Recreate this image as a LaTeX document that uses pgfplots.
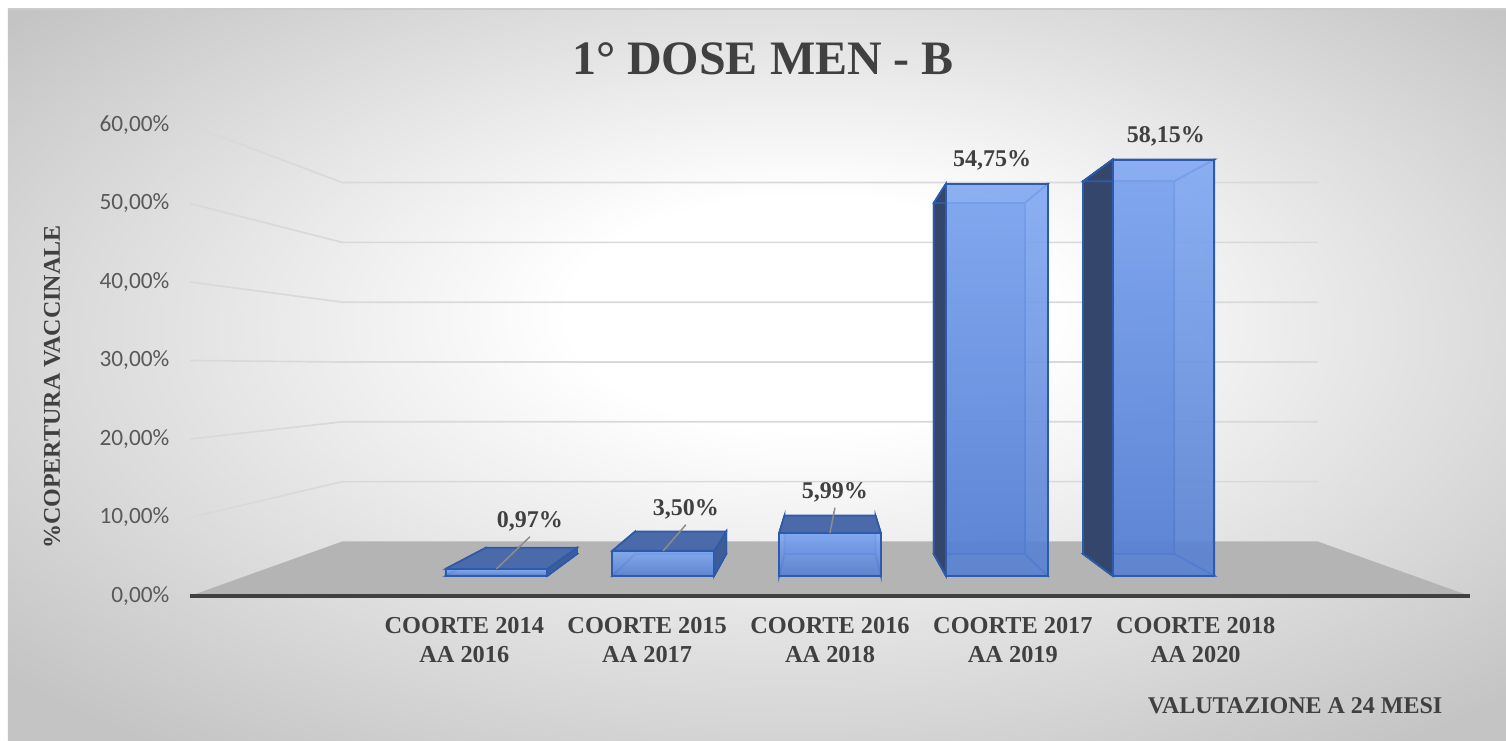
\documentclass[border=0pt]{standalone}
\usepackage{fontspec}
\setmainfont{Liberation Serif}[BoldFont={Liberation Serif Bold}]
\newfontfamily\tnrb{Liberation Serif Bold}
\newfontfamily\calibri{Carlito}
\usepackage{pgfplots}
\usepackage{pgfplotstable}
\pgfplotsset{compat=1.18}

\definecolor{txt}{HTML}{404040}
\definecolor{tickc}{HTML}{595959}
\definecolor{gridc}{HTML}{D9D9D9}
\definecolor{floorc}{HTML}{B4B4B4}
\definecolor{flooredge}{HTML}{404040}
\definecolor{edgec}{RGB}{46,90,172}
\definecolor{fronttop}{RGB}{128,168,242}
\definecolor{frontbot}{RGB}{86,128,210}
\definecolor{backc}{RGB}{90,130,210}
\definecolor{topc}{RGB}{74,106,170}
\definecolor{sideL}{RGB}{52,70,108}
\definecolor{sideR}{RGB}{62,92,150}
\definecolor{bgout}{RGB}{196,196,196}
\definecolor{leadc}{RGB}{140,140,140}

\pgfdeclareradialshading{bgshade}{\pgfpoint{2bp}{5bp}}{color(0bp)=(white); color(8bp)=(white); color(34bp)=(bgout); color(50bp)=(bgout)}

% bars: category position, value, label position
\pgfplotstableread{
x v lx ly
1.5 0.97 1.859 9.55
2.5 3.50 2.712 11.08
3.5 5.99 3.527 13.25
4.5 54.75 4.386 55.54
5.5 58.15 5.337 58.60
}\bars

% face templates: s = side, h = bottom(0)/top(1), f = depth factor
\pgfplotstableread{
s h f
-1 0 0.912
1 0 0.912
1 1 0.912
-1 1 0.912
}\faceFront
\pgfplotstableread{
s h f
-1 0 0.8166
1 0 0.8166
1 1 0.8166
-1 1 0.8166
}\faceBack
\pgfplotstableread{
s h f
-1 0 0.8166
-1 0 0.912
-1 1 0.912
-1 1 0.8166
}\faceLeft
\pgfplotstableread{
s h f
1 0 0.8166
1 0 0.912
1 1 0.912
1 1 0.8166
}\faceRight
\pgfplotstableread{
s h f
-1 1 0.912
1 1 0.912
1 1 0.8166
-1 1 0.8166
}\faceTop
\pgfplotstableread{
s h f
-1 0 0.912
1 0 0.912
1 0 0.8166
-1 0 0.8166
}\faceBottom
\pgfplotstableread{
x v f
0 0 1
7 0 1
7 0 0.762
0 0 0.762
}\floorT
\pgfplotstableread{
x f
0 1
0 0.762
7 0.762
}\gridT

\def\barX{3.5+\thisrow{f}*(\myBx+0.305*\thisrow{s}-3.5)}
\def\barY{29.2+\thisrow{f}*(\thisrow{h}*\myBv-29.2)}

\begin{document}
\begin{tikzpicture}
\useasboundingbox (-57pt,-43.2pt) rectangle (394.8pt,178.8pt);
\fill[white] (-57pt,-43.2pt) rectangle (394.8pt,178.8pt);
\shade[shading=bgshade] (-54.6pt,-43.2pt) rectangle (394.8pt,176.1pt);
\draw[gray!40, line width=0.5pt] (-54.6pt,176.1pt) -- (394.8pt,176.1pt);
\begin{axis}[
  at={(0pt,0pt)}, anchor=south west,
  scale only axis, width=384pt, height=141.3pt,
  xmin=0, xmax=7, ymin=0, ymax=60,
  clip=false, no markers,
  axis line style={draw=none},
  major tick length=0pt,
  xtick={1.5,2.5,3.5,4.5,5.5},
  xticklabels={{COORTE 2014\\AA 2016},{COORTE 2015\\AA 2017},{COORTE 2016\\AA 2018},{COORTE 2017\\AA 2019},{COORTE 2018\\AA 2020}},
  xticklabel style={align=center, font=\tnrb\fontsize{7.3}{8.5}\selectfont, text=txt, inner sep=0pt, anchor=north, yshift=-6.3pt},
  ytick={0,10,20,30,40,50,60},
  yticklabels={{0,00\%},{10,00\%},{20,00\%},{30,00\%},{40,00\%},{50,00\%},{60,00\%}},
  yticklabel style={font=\calibri\fontsize{7}{8}\selectfont, text=tickc, inner sep=0pt, anchor=east, xshift=-6pt},
  title={1° DOSE MEN - B},
  title style={at={(axis description cs:0.4477,1.1062)}, anchor=base, yshift=-6pt, font=\tnrb\fontsize{14.4}{16}\selectfont, text=txt, inner sep=0pt},
  xlabel={VALUTAZIONE A 24 MESI},
  xlabel style={at={(axis description cs:0.9789,-0.2505)}, anchor=base east, font=\tnrb\fontsize{7.2}{8}\selectfont, text=txt, inner sep=0pt},
  ylabel={\%COPERTURA VACCINALE},
  ylabel style={at={(axis description cs:-0.1078,0.4437)}, anchor=center, font=\tnrb\fontsize{7.2}{8}\selectfont, text=txt, inner sep=0pt},
]
% walls gridlines
\pgfplotsinvokeforeach{10,20,30,40,50,60}{
  \addplot[gridc, line width=0.5pt] table[x expr={3.5+\thisrow{f}*(\thisrow{x}-3.5)}, y expr={29.2+\thisrow{f}*(#1-29.2)}] {\gridT};
}
% floor
\addplot[fill=floorc, draw=none] table[x expr={3.5+\thisrow{f}*(\thisrow{x}-3.5)}, y expr={29.2+\thisrow{f}*(\thisrow{v}-29.2)}] {\floorT} -- cycle;
\addplot[flooredge, line width=1.1pt] coordinates {(0,0) (7,0)};
% bars
\pgfplotsinvokeforeach{0,...,4}{
  \pgfplotstablegetelem{#1}{x}\of\bars \edef\myBx{\pgfplotsretval}
  \pgfplotstablegetelem{#1}{v}\of\bars \edef\myBv{\pgfplotsretval}
  \pgfplotstablegetelem{#1}{lx}\of\bars \edef\myLx{\pgfplotsretval}
  \pgfplotstablegetelem{#1}{ly}\of\bars \edef\myLy{\pgfplotsretval}
  \addplot[draw=edgec, fill=backc, fill opacity=0.6, line width=0.5pt] table[x expr=\barX, y expr=\barY] {\faceBack} -- cycle;
  \addplot[draw=edgec, line width=0.5pt] table[x expr=\barX, y expr=\barY] {\faceBottom} -- cycle;
  \addplot[draw=edgec, line width=0.5pt] table[x expr=\barX, y expr=\barY] {\faceLeft} -- cycle;
  \addplot[draw=edgec, line width=0.5pt] table[x expr=\barX, y expr=\barY] {\faceRight} -- cycle;
  \ifdim\myBx pt>3.5pt
    \addplot[draw=edgec, fill=sideL, line width=0.5pt] table[x expr=\barX, y expr=\barY] {\faceLeft} -- cycle;
  \fi
  \ifdim\myBx pt<3.5pt
    \addplot[draw=edgec, fill=sideR, line width=0.5pt] table[x expr=\barX, y expr=\barY] {\faceRight} -- cycle;
  \fi
  \ifdim\myBv pt<29.2pt
    \addplot[draw=edgec, fill=topc, line width=0.5pt] table[x expr=\barX, y expr=\barY] {\faceTop} -- cycle;
  \else
    \addplot[draw=edgec, line width=0.5pt] table[x expr=\barX, y expr=\barY] {\faceTop} -- cycle;
  \fi
  \addplot[draw=edgec, top color=fronttop, bottom color=frontbot, fill opacity=0.9, line width=0.6pt] table[x expr=\barX, y expr=\barY] {\faceFront} -- cycle;
  \pgfmathsetmacro\myX{3.5+0.912*(\myBx-3.5)}
  \pgfmathsetmacro\myY{29.2+0.912*(\myBv-29.2)}
  \pgfmathsetmacro\myLe{\myLy-2}
  \ifdim\myBv pt<29.2pt
    \edef\temp{\noexpand\draw[leadc, line width=0.45pt] (axis cs:\myX,\myY) -- (axis cs:\myLx,\myLe);}\temp
  \fi
  \edef\temp{\noexpand\node[font=\noexpand\tnrb\noexpand\fontsize{7.2}{8}\noexpand\selectfont, text=txt, inner sep=0pt] at (axis cs:\myLx,\myLy) {\noexpand\pgfmathprintnumber[fixed,fixed zerofill,precision=2,use comma,assume math mode=true]{\myBv}\noexpand\%};}\temp
}
\end{axis}
\end{tikzpicture}
\end{document}
